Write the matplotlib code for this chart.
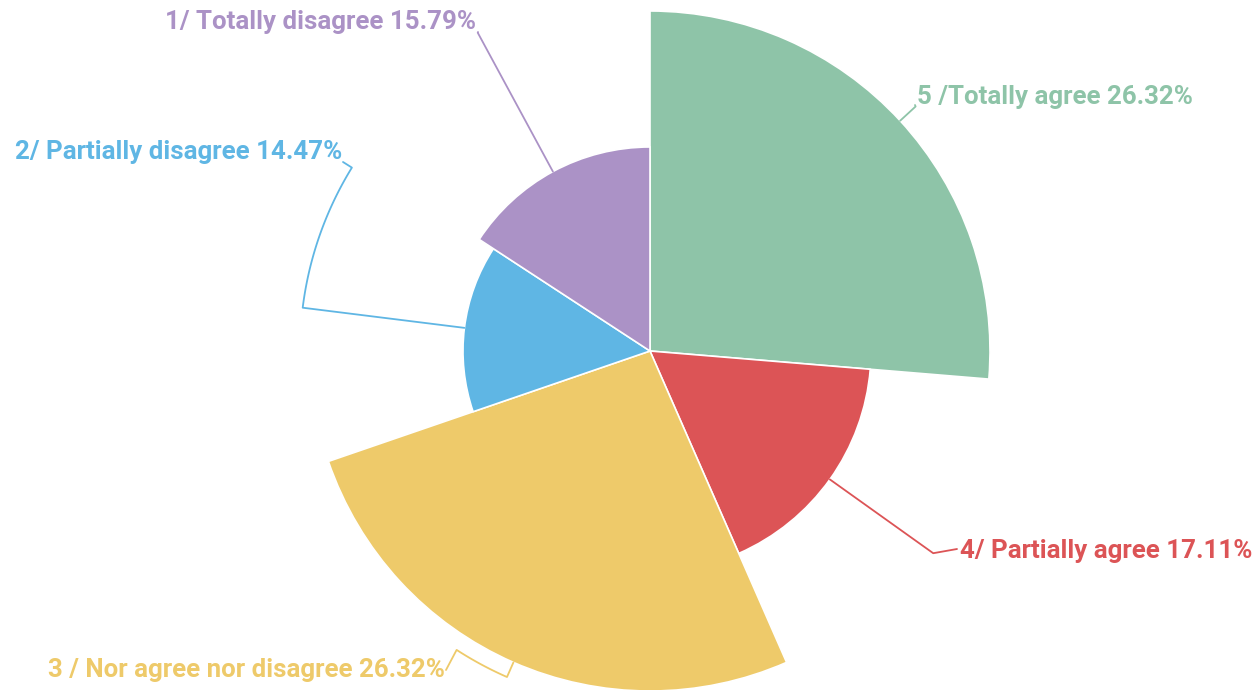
import numpy as np
import matplotlib
matplotlib.use("Agg")
import matplotlib.pyplot as plt
from matplotlib.patches import Wedge

# answers (count of respondents), clockwise from 12 o'clock
names = ["5 /Totally agree", "4/ Partially agree", "3 / Nor agree nor disagree",
         "2/ Partially disagree", "1/ Totally disagree"]
counts = [20, 13, 20, 11, 12]
colors = ["#8ec4a8", "#dc5456", "#eeca6a", "#5fb6e4", "#ab92c6"]

W, H = 1258, 690
cx, cy = 650, H - 351   # pie centre (pixel units, y up)
r_max = 340

# label layout: text pos (image px), alignment, leader radius, arc end angle, line end
label_xy = [(917, 97), (960, 551), (445, 670), (342, 152), (476, 22)]
label_ha = ["left", "left", "right", "right", "right"]
line_r = [361, 348, 356, 350, 362]
elbow_ang = [None, None, 237.1, 148.4, None]
line_end = [(915, 105), (957, 549), (446, 670), (343, 162), (478, 32)]

fig = plt.figure(figsize=(W / 100, H / 100), dpi=100)
ax = fig.add_axes([0, 0, 1, 1])
ax.set_xlim(0, W)
ax.set_ylim(0, H)
ax.set_aspect("equal")
ax.axis("off")

total = sum(counts)
vmax = max(counts)
start = 90.0
for i, v in enumerate(counts):
    sweep = 360.0 * v / total
    r = r_max * v / vmax
    ax.add_patch(Wedge((cx, cy), r, start - sweep, start, facecolor=colors[i],
                       edgecolor="white", linewidth=1.2))
    mid_deg = (start - sweep / 2) % 360
    mid = np.radians(mid_deg)
    # leader line: radial out, optional arc, then to label
    xs = [cx + r * np.cos(mid), cx + line_r[i] * np.cos(mid)]
    ys = [cy + r * np.sin(mid), cy + line_r[i] * np.sin(mid)]
    if elbow_ang[i] is not None:
        a = np.linspace(mid, np.radians(elbow_ang[i]), 40)
        xs += list(cx + line_r[i] * np.cos(a))
        ys += list(cy + line_r[i] * np.sin(a))
    ex, ey = line_end[i]
    xs.append(ex)
    ys.append(H - ey)
    ax.plot(xs, ys, color=colors[i], linewidth=1.3, solid_capstyle="round")

    pct = 100.0 * v / total
    tx, ty = label_xy[i]
    ax.text(tx, H - ty, f"{names[i]} {pct:.2f}%", color=colors[i], ha=label_ha[i],
            va="center", fontsize=18.6, family="Roboto", fontweight="bold")
    start -= sweep

fig.savefig("out.png", dpi=100)
